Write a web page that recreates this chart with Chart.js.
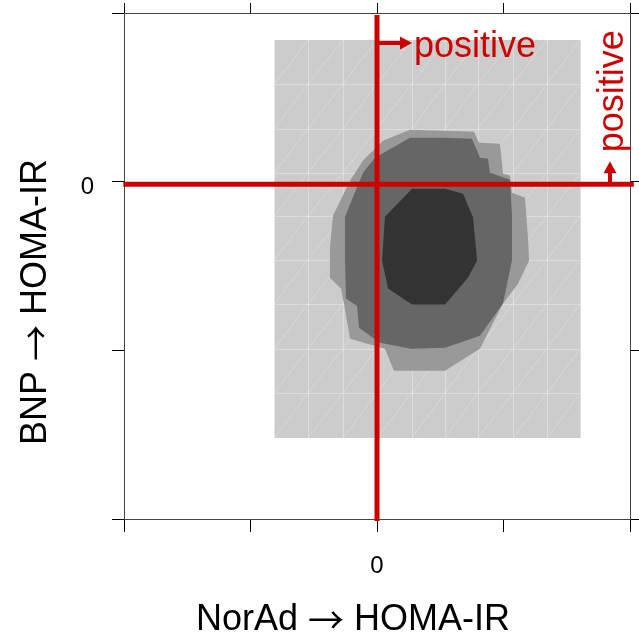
<!DOCTYPE html>
<html>
<head>
<meta charset="utf-8">
<script src="https://cdn.jsdelivr.net/npm/chart.js@4.4.1/dist/chart.umd.min.js"></script>
<style>
  html, body { margin: 0; padding: 0; background: #fff; }
  #wrap { width: 639px; height: 639px; }
</style>
</head>
<body>
<div id="wrap"><canvas id="chart" width="639" height="639"></canvas></div>
<script>
// axes
const xTicks = [-2, -1, 0, 1, 2];
const yTicks = [-2, -1, 0, 1];
const tickLabels = { 0: '0' };
const xTitle = 'NorAd \u2192 HOMA-IR';
const yTitle = 'BNP \u2192 HOMA-IR';

// reference lines (red)
const refX = 0;
const refY = -0.015;

// density levels, lightest to darkest
const lightX = [-0.81, 1.61, 1.61, -0.81, -0.81];
const lightY = [0.84, 0.84, -1.52, -1.52, 0.84];

const midX = [0.261, 0.767, 0.806, 0.972, 0.996, 1.051, 1.067, 1.170, 1.194, 1.202, 1.115, 0.996, 0.814, 0.538, 0.134, 0.063, -0.213, -0.261, -0.285, -0.372, -0.372, -0.348, -0.213, -0.111, 0.047, 0.261];
const midY = [0.308, 0.296, 0.231, 0.225, 0.047, 0.036, -0.065, -0.095, -0.338, -0.468, -0.605, -0.723, -0.990, -1.121, -1.121, -0.990, -0.931, -0.723, -0.634, -0.569, -0.391, -0.202, 0.006, 0.125, 0.243, 0.308];

const darkX = [0.261, 0.522, 0.751, 0.814, 0.877, 0.893, 1.051, 1.067, 1.067, 0.996, 0.814, 0.538, 0.269, 0.024, -0.142, -0.158, -0.245, -0.253, -0.253, -0.111, -0.016, 0.126, 0.261];
const darkY = [0.261, 0.261, 0.255, 0.142, 0.136, 0.053, 0.012, -0.196, -0.468, -0.723, -0.913, -0.984, -0.990, -0.955, -0.866, -0.735, -0.694, -0.468, -0.208, 0.053, 0.142, 0.202, 0.261];

const coreX = [0.277, 0.538, 0.680, 0.759, 0.791, 0.719, 0.538, 0.277, 0.087, 0.040, 0.063, 0.277];
const coreY = [-0.042, -0.042, -0.071, -0.213, -0.468, -0.569, -0.729, -0.729, -0.634, -0.468, -0.208, -0.042];

// cell edges of the density grid
const gridX = [-0.81, -0.545, -0.269, 0, 0.277, 0.538, 0.798, 1.075, 1.344, 1.61];
const gridY = [0.84, 0.581, 0.314, 0.053, -0.202, -0.462, -0.723, -0.990, -1.251, -1.52];

const FONT = "'Liberation Sans', Arial, sans-serif";
const ARROW_FONT = "'Noto Sans CJK JP', 'DejaVu Sans', sans-serif";
const RED = '#CD0000';

const pts = (xs, ys) => xs.map((x, i) => ({ x: x, y: ys[i] }));

function polygon(label, xs, ys, color, order) {
    return {
        label: label,
        data: pts(xs, ys),
        showLine: true,
        fill: 'shape',
        backgroundColor: color,
        borderColor: color,
        borderWidth: 0,
        pointRadius: 0,
        tension: 0,
        order: order
    };
}

// title text with the arrow taken from a font that draws a long one
function drawTitle(ctx, text, size) {
    const [a, b] = text.split('\u2192');
    const parts = [
        { t: a, f: size + 'px ' + FONT },
        { t: '\u2192', f: size + 'px ' + ARROW_FONT },
        { t: b, f: size + 'px ' + FONT }
    ];
    let total = 0;
    parts.forEach(p => { ctx.font = p.f; p.w = ctx.measureText(p.t).width; total += p.w; });
    let x = -total / 2;
    ctx.textAlign = 'left';
    parts.forEach(p => { ctx.font = p.f; ctx.fillText(p.t, x, 0); x += p.w; });
}

// keep the panel box where it is, no room reserved for end labels
function fixWidth(w) {
    return s => { s.width = w; s.paddingTop = 0; s.paddingBottom = 0; s.paddingLeft = 0; s.paddingRight = 0; };
}
function fixHeight(h) {
    return s => { s.height = h; s.paddingTop = 0; s.paddingBottom = 0; s.paddingLeft = 0; s.paddingRight = 0; };
}

// faint cell lines over the lightest level
const gridLines = {
    id: 'gridLines',
    afterDatasetDraw(chart, args) {
        if (chart.data.datasets[args.index].label !== 'level1') return;
        const { ctx, scales: { x, y }, chartArea } = chart;
        ctx.save();
        ctx.beginPath();
        ctx.rect(chartArea.left, chartArea.top, chartArea.width, chartArea.height);
        ctx.clip();
        ctx.lineWidth = 1;
        ctx.strokeStyle = 'rgba(255,255,255,0.32)';
        const x0 = x.getPixelForValue(gridX[0]), x1 = x.getPixelForValue(gridX[gridX.length - 1]);
        const y0 = y.getPixelForValue(gridY[0]), y1 = y.getPixelForValue(gridY[gridY.length - 1]);
        ctx.beginPath();
        gridX.slice(1, -1).forEach(v => {
            const px = Math.round(x.getPixelForValue(v)) + 0.5;
            ctx.moveTo(px, y0); ctx.lineTo(px, y1);
        });
        gridY.slice(1, -1).forEach(v => {
            const py = Math.round(y.getPixelForValue(v)) + 0.5;
            ctx.moveTo(x0, py); ctx.lineTo(x1, py);
        });
        ctx.stroke();
        ctx.strokeStyle = 'rgba(255,255,255,0.25)';
        ctx.beginPath();
        for (let i = 0; i < gridX.length - 1; i++) {
            for (let j = 0; j < gridY.length - 1; j++) {
                ctx.moveTo(x.getPixelForValue(gridX[i]), y.getPixelForValue(gridY[j + 1]));
                ctx.lineTo(x.getPixelForValue(gridX[i + 1]), y.getPixelForValue(gridY[j]));
            }
        }
        ctx.stroke();
        ctx.restore();
    }
};

// arrows, "positive" labels and axis titles
const annotations = {
    id: 'annotations',
    afterDraw(chart) {
        const { ctx, scales: { x, y }, chartArea } = chart;
        const vx = x.getPixelForValue(refX);
        const hy = y.getPixelForValue(refY);
        ctx.save();
        ctx.fillStyle = RED;
        ctx.strokeStyle = RED;
        ctx.lineWidth = 4;

        // top arrow, pointing right
        const ay = chartArea.top + 30;
        ctx.beginPath();
        ctx.moveTo(vx + 2, ay); ctx.lineTo(vx + 25, ay);
        ctx.stroke();
        ctx.beginPath();
        ctx.moveTo(vx + 35, ay); ctx.lineTo(vx + 23, ay - 6.5); ctx.lineTo(vx + 23, ay + 6.5);
        ctx.closePath(); ctx.fill();
        ctx.font = '36px ' + FONT;
        ctx.textAlign = 'left';
        ctx.textBaseline = 'alphabetic';
        ctx.fillText('positive', vx + 37, chartArea.top + 44);

        // right arrow, pointing up
        const ax = chartArea.right - 20;
        ctx.beginPath();
        ctx.moveTo(ax, hy - 2); ctx.lineTo(ax, hy - 13);
        ctx.stroke();
        ctx.beginPath();
        ctx.moveTo(ax, hy - 23); ctx.lineTo(ax - 6.5, hy - 11); ctx.lineTo(ax + 6.5, hy - 11);
        ctx.closePath(); ctx.fill();
        ctx.save();
        ctx.translate(chartArea.right - 7, hy - 32);
        ctx.rotate(-Math.PI / 2);
        ctx.fillText('positive', 0, 0);
        ctx.restore();

        // axis titles
        ctx.fillStyle = '#000';
        ctx.textBaseline = 'middle';
        ctx.save();
        ctx.translate(chartArea.left + 229, chartArea.bottom + 101);
        drawTitle(ctx, xTitle, 36);
        ctx.restore();
        ctx.save();
        ctx.translate(36, chartArea.top + 289);
        ctx.rotate(-Math.PI / 2);
        drawTitle(ctx, yTitle, 36);
        ctx.restore();
        ctx.restore();
    }
};

const tickFont = { family: FONT, size: 24 };

new Chart(document.getElementById('chart'), {
    type: 'scatter',
    data: {
        datasets: [
            polygon('level1', lightX, lightY, '#CCCCCC', 6),
            polygon('level2', midX, midY, '#999999', 5),
            polygon('level3', darkX, darkY, '#666666', 4),
            polygon('level4', coreX, coreY, '#333333', 3),
            {
                label: 'vertical',
                data: [{ x: refX, y: 0.988 }, { x: refX, y: -2.012 }],
                showLine: true, fill: false, borderColor: RED, borderWidth: 5,
                pointRadius: 0, clip: false, order: 1, borderCapStyle: 'butt'
            },
            {
                label: 'horizontal',
                data: [{ x: -2.005, y: refY }, { x: 2.03, y: refY }],
                showLine: true, fill: false, borderColor: RED, borderWidth: 5,
                pointRadius: 0, clip: false, order: 1, borderCapStyle: 'butt'
            }
        ]
    },
    options: {
        responsive: false,
        animation: false,
        layout: { padding: 0, autoPadding: false },
        plugins: { legend: { display: false }, tooltip: { enabled: false } },
        scales: {
            x: {
                type: 'linear', position: 'bottom', min: -2, max: 2,
                afterBuildTicks: s => { s.ticks = xTicks.map(v => ({ value: v })); },
                ticks: { callback: v => tickLabels[v] ?? '', font: tickFont, color: '#000', padding: 20, maxRotation: 0, autoSkip: false },
                grid: { drawOnChartArea: false, tickLength: 13, tickColor: '#000' },
                border: { display: true, color: '#444', width: 1 },
                afterFit: fixHeight(120)
            },
            x2: {
                type: 'linear', position: 'top', min: -2, max: 2,
                afterBuildTicks: s => { s.ticks = xTicks.map(v => ({ value: v })); },
                ticks: { callback: () => '', autoSkip: false },
                grid: { drawOnChartArea: false, tickLength: 10, tickColor: '#000' },
                border: { display: true, color: '#444', width: 1 },
                afterFit: fixHeight(13)
            },
            y: {
                type: 'linear', position: 'left', min: -2, max: 1,
                afterBuildTicks: s => { s.ticks = yTicks.map(v => ({ value: v })); },
                ticks: { callback: v => tickLabels[v] ?? '', font: tickFont, color: '#000', padding: 18, labelOffset: 6, autoSkip: false },
                grid: { drawOnChartArea: false, tickLength: 12, tickColor: '#000' },
                border: { display: true, color: '#444', width: 1 },
                afterFit: fixWidth(124)
            },
            y2: {
                type: 'linear', position: 'right', min: -2, max: 1,
                afterBuildTicks: s => { s.ticks = yTicks.map(v => ({ value: v })); },
                ticks: { callback: () => '', autoSkip: false },
                grid: { drawOnChartArea: false, tickLength: 9, tickColor: '#000' },
                border: { display: true, color: '#444', width: 1 },
                afterFit: fixWidth(9)
            }
        }
    },
    plugins: [gridLines, annotations]
});
</script>
</body>
</html>
